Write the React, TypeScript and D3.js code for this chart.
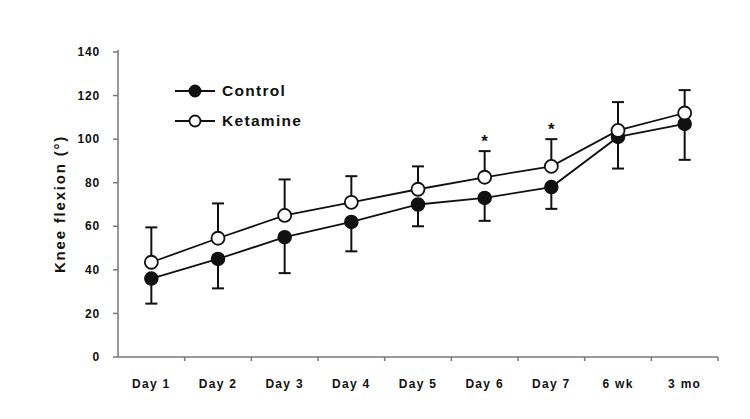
import { useMemo } from "react";
import * as d3 from "d3";

const categories = ["Day 1", "Day 2", "Day 3", "Day 4", "Day 5", "Day 6", "Day 7", "6 wk", "3 mo"];
const controlMean = [36, 45, 55, 62, 70, 73, 78, 101, 107];
const controlLower = [24.5, 31.5, 38.5, 48.5, 60, 62.5, 68, 86.5, 90.5];
const ketamineMean = [43.5, 54.5, 65, 71, 77, 82.5, 87.5, 104, 112];
const ketamineUpper = [59.5, 70.5, 81.5, 83, 87.5, 94.5, 100, 117, 122.5];
const significant = ["Day 6", "Day 7"];
const yTicks = [0, 20, 40, 60, 80, 100, 120, 140];

const FONT = "Arial, 'Liberation Sans', Helvetica, sans-serif";
const INK = "#111";
const AXIS = "#777";

export default function App() {
  const width = 750;
  const height = 419;
  const left = 118;
  const right = 718;
  const top = 52;
  const bottom = 357;

  const x = useMemo(
    () => d3.scaleBand<string>().domain(categories).range([left, right]),
    []
  );
  const y = useMemo(() => d3.scaleLinear().domain([0, 140]).range([bottom, top]), []);
  const cx = (c: string) => (x(c) ?? 0) + x.bandwidth() / 2;

  const line = d3
    .line<number>()
    .x((_, i) => cx(categories[i]))
    .y((d) => y(d));

  const r = 6.5;
  const cap = 6;

  return (
    <svg width={width} height={height} style={{ position: "absolute", left: 0, top: 0 }} fontFamily={FONT}>
      <rect width={width} height={height} fill="#fff" />

      {/* axes */}
      <line x1={left} x2={left} y1={top - 2} y2={bottom} stroke={AXIS} strokeWidth={1.5} />
      <line x1={left} x2={right} y1={bottom} y2={bottom} stroke={AXIS} strokeWidth={1.5} />
      {yTicks.map((t) => (
        <g key={t}>
          <line x1={left - 5} x2={left} y1={y(t)} y2={y(t)} stroke={AXIS} strokeWidth={1.5} />
          <text x={left - 18} y={y(t)} dy="0.35em" textAnchor="end" fontSize={12} fontWeight={700} letterSpacing={0.8} fill={INK}>
            {t}
          </text>
        </g>
      ))}
      {categories.map((c) => (
        <g key={c}>
          <line
            x1={(x(c) ?? 0) + x.bandwidth()}
            x2={(x(c) ?? 0) + x.bandwidth()}
            y1={bottom}
            y2={bottom + 4}
            stroke={AXIS}
            strokeWidth={1.5}
          />
          <text x={cx(c)} y={bottom + 27} dy="0.35em" textAnchor="middle" fontSize={12} fontWeight={700} letterSpacing={1.3} fill={INK}>
            {c}
          </text>
        </g>
      ))}

      <text
        transform={`translate(${60}, ${204}) rotate(-90)`}
        textAnchor="middle"
        dy="0.35em"
        fontSize={15}
        fontWeight={700}
        letterSpacing={1.8}
        fill={INK}
      >
        Knee flexion (°)
      </text>

      {/* error bars */}
      {categories.map((c, i) => (
        <g key={`err-${c}`} stroke={INK} strokeWidth={2}>
          <line x1={cx(c)} x2={cx(c)} y1={y(controlMean[i])} y2={y(controlLower[i])} />
          <line x1={cx(c) - cap} x2={cx(c) + cap} y1={y(controlLower[i])} y2={y(controlLower[i])} />
          <line x1={cx(c)} x2={cx(c)} y1={y(ketamineMean[i])} y2={y(ketamineUpper[i])} />
          <line x1={cx(c) - cap} x2={cx(c) + cap} y1={y(ketamineUpper[i])} y2={y(ketamineUpper[i])} />
        </g>
      ))}

      {/* lines */}
      <path d={line(controlMean) ?? ""} fill="none" stroke={INK} strokeWidth={1.8} />
      <path d={line(ketamineMean) ?? ""} fill="none" stroke={INK} strokeWidth={1.8} />

      {/* markers */}
      {categories.map((c, i) => (
        <circle key={`cm-${c}`} cx={cx(c)} cy={y(controlMean[i])} r={r} fill={INK} stroke={INK} strokeWidth={1.5} />
      ))}
      {categories.map((c, i) => (
        <circle key={`km-${c}`} cx={cx(c)} cy={y(ketamineMean[i])} r={r} fill="#fff" stroke={INK} strokeWidth={1.8} />
      ))}

      {/* significance */}
      {significant.map((c) => {
        const i = categories.indexOf(c);
        return (
          <text key={`sig-${c}`} x={cx(c)} y={y(ketamineUpper[i]) - 4} textAnchor="middle" fontSize={17} fontWeight={700} fill={INK}>
            *
          </text>
        );
      })}

      {/* legend */}
      {[
        { label: "Control", fill: INK, yy: 91 },
        { label: "Ketamine", fill: "#fff", yy: 121 },
      ].map((d) => (
        <g key={d.label}>
          <line x1={175} x2={215} y1={d.yy} y2={d.yy} stroke={INK} strokeWidth={1.8} />
          <circle cx={195} cy={d.yy} r={5.5} fill={d.fill} stroke={INK} strokeWidth={1.8} />
          <text x={222} y={d.yy} dy="0.35em" fontSize={15.5} fontWeight={700} letterSpacing={1.3} fill={INK}>
            {d.label}
          </text>
        </g>
      ))}
    </svg>
  );
}
